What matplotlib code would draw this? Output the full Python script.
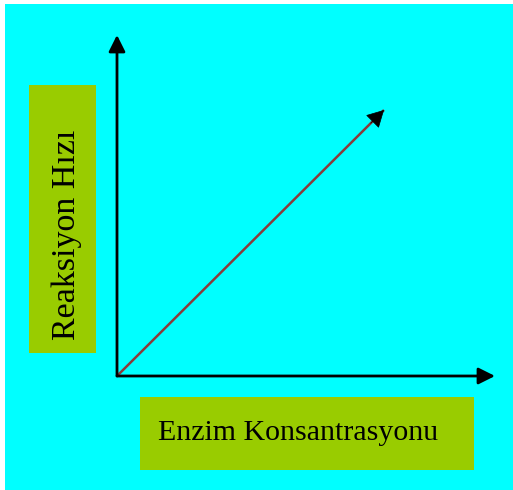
import matplotlib.pyplot as plt
from matplotlib.patches import Rectangle

# schematic: reaction rate rises linearly with enzyme concentration
concentration = [0, 1]
rate = [0, 1]
x_label = 'Enzim Konsantrasyonu'
y_label = 'Reaksiyon Hızı'

W, H = 513, 490
fig = plt.figure(figsize=(W / 100, H / 100), dpi=100)
fig.patch.set_facecolor('white')

# background layer in pixel coordinates
bg = fig.add_axes([0, 0, 1, 1])
bg.set_xlim(0, W)
bg.set_ylim(H, 0)
bg.axis('off')
bg.add_patch(Rectangle((5, 4), W - 5, H - 4, color='#00FFFF', lw=0))
bg.add_patch(Rectangle((29, 85), 67, 268, color='#99CC00', lw=0))
bg.add_patch(Rectangle((140, 397), 334, 73, color='#99CC00', lw=0))
bg.text(158, 440, x_label, fontsize=21.5, family='Liberation Serif',
        ha='left', va='baseline')
bg.text(75, 340, y_label, fontsize=24.5, family='Liberation Serif',
        rotation=90, rotation_mode='anchor', ha='left', va='baseline')

# chart axes: origin at (117, 376), top of y arrow at 35, end of x arrow at 495
x0, y0, x1, y1 = 117, 376, 495, 35
ax = fig.add_axes([x0 / W, 1 - y0 / H, (x1 - x0) / W, (y0 - y1) / H])
ax.set_xlim(0, (x1 - x0) / (384 - x0))
ax.set_ylim(0, (y0 - y1) / (y0 - 110))
ax.axis('off')
ax.patch.set_alpha(0)

head = dict(arrowstyle='-|>,head_length=0.5,head_width=0.25', color='black',
            lw=2, mutation_scale=20, shrinkA=0, shrinkB=0)
ax.annotate('', xy=(1, 0), xytext=(0, 0), xycoords='axes fraction',
            textcoords='axes fraction', arrowprops=head)
ax.annotate('', xy=(0, 1), xytext=(0, 0), xycoords='axes fraction',
            textcoords='axes fraction', arrowprops=head)

ax.plot(concentration, rate, color='#8B3A3A', lw=1.8, solid_capstyle='butt')
ax.annotate('', xy=(concentration[1], rate[1]), xytext=(0.95, 0.95),
            arrowprops=dict(arrowstyle='-|>,head_length=0.55,head_width=0.3',
                            color='black', lw=0.5, mutation_scale=20,
                            shrinkA=0, shrinkB=0))

fig.savefig('out.png', dpi=100)
